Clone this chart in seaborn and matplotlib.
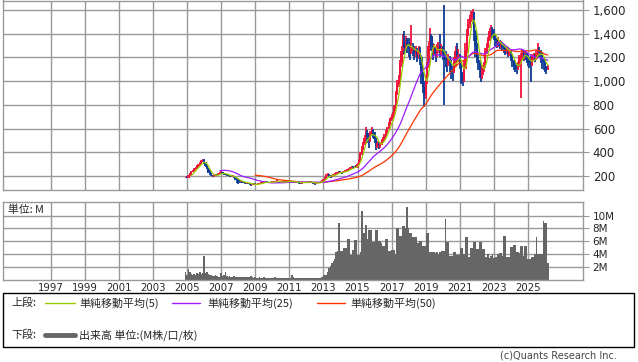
import numpy as np
import pandas as pd
import matplotlib
matplotlib.use("Agg")
import matplotlib.pyplot as plt
from matplotlib.lines import Line2D
from matplotlib.patches import Rectangle
from matplotlib.ticker import FuncFormatter
import seaborn as sns

# monthly bars, Dec 2004 .. Mar 2026
start_month = "2004-12"

close = [
    190,
    185, 200, 215, 235, 240, 255, 270, 285, 295, 305, 325, 335,
    310, 285, 260, 235, 215, 205, 200, 205, 210, 208, 215, 225,
    230, 222, 215, 212, 208, 205, 200, 195, 198, 188, 175, 168,
    160, 150, 155, 150, 145, 140, 142, 138, 135, 125, 128, 132,
    130, 128, 132, 138, 142, 145, 148, 150, 148, 146, 145, 148,
    150, 152, 155, 158, 150, 146, 148, 150, 148, 152, 156, 155,
    158, 155, 148, 146, 148, 150, 148, 142, 140, 143, 146, 148,
    146, 148, 152, 148, 144, 138, 135, 140, 145, 148, 152, 160,
    168, 185, 200, 212, 200, 195, 205, 210, 215, 222, 230, 238,
    232, 226, 234, 240, 246, 255, 260, 266, 275, 270, 280, 276,
    300, 335, 385, 430, 470, 520, 560, 530, 500, 560, 590, 560,
    510, 460, 480, 450, 470, 500, 510, 540, 570, 600, 640, 670,
    700, 720, 780, 900, 980, 1000, 1150, 1250, 1330, 1280, 1350, 1300,
    1280, 1250, 1300, 1270, 1240, 1260, 1220, 1250, 1200, 1050, 950, 880,
    1000, 1130, 1300, 1380, 1300, 1250, 1280, 1230, 1270, 1300, 1250, 1280,
    1230, 1200, 1180, 1150, 1200, 1150, 1100, 1080, 1150, 1250, 1200, 1220,
    1150, 1050, 1000, 1100, 1250, 1400, 1480, 1530, 1560, 1580, 1420, 1300,
    1200, 1150, 1100, 1050, 1100, 1120, 1250, 1300, 1350, 1420, 1430, 1400,
    1380, 1350, 1320, 1330, 1300, 1310, 1290, 1280, 1260, 1270, 1240, 1250,
    1200, 1170, 1130, 1120, 1100, 1130, 1200, 1220, 1240, 1200, 1230, 1180,
    1170, 1150, 1140, 1200, 1210, 1190, 1220, 1260, 1240, 1230, 1180, 1160,
    1120, 1090, 1115,
]

high = [
    195,
    200, 210, 225, 245, 250, 265, 280, 295, 305, 320, 335, 345,
    340, 315, 290, 265, 240, 222, 212, 215, 220, 218, 225, 235,
    240, 235, 228, 220, 215, 212, 208, 205, 205, 200, 192, 180,
    172, 165, 162, 158, 152, 148, 148, 145, 142, 138, 135, 138,
    138, 135, 138, 145, 148, 150, 154, 156, 155, 152, 150, 152,
    156, 158, 162, 164, 160, 152, 154, 156, 154, 158, 162, 162,
    165, 162, 160, 152, 154, 156, 154, 150, 146, 148, 150, 152,
    152, 154, 158, 156, 150, 146, 142, 145, 150, 152, 158, 166,
    178, 195, 215, 225, 218, 205, 212, 218, 222, 230, 238, 245,
    242, 234, 240, 248, 252, 262, 268, 272, 285, 282, 288, 290,
    310, 345, 400, 450, 490, 545, 610, 590, 540, 580, 615, 600,
    570, 520, 495, 490, 485, 510, 525, 555, 585, 615, 655, 690,
    720, 740, 800, 920, 1010, 1050, 1180, 1300, 1400, 1420, 1380, 1360,
    1360, 1330, 1470, 1320, 1300, 1300, 1280, 1300, 1290, 1220, 1080, 1000,
    1050, 1160, 1340, 1450, 1400, 1320, 1310, 1300, 1310, 1330, 1400, 1310,
    1300, 1640, 1250, 1220, 1230, 1210, 1180, 1130, 1200, 1300, 1320, 1270,
    1230, 1160, 1080, 1180, 1320, 1440, 1520, 1560, 1590, 1605, 1580, 1430,
    1320, 1230, 1180, 1120, 1140, 1160, 1280, 1320, 1370, 1450, 1470, 1460,
    1440, 1400, 1360, 1370, 1350, 1340, 1330, 1310, 1300, 1300, 1290, 1280,
    1270, 1220, 1180, 1150, 1140, 1160, 1220, 1240, 1270, 1250, 1260, 1240,
    1220, 1200, 1210, 1230, 1240, 1230, 1260, 1320, 1290, 1260, 1240, 1190,
    1165, 1130, 1140,
]

low = [
    180,
    180, 182, 198, 212, 230, 238, 252, 268, 280, 292, 300, 318,
    305, 280, 255, 228, 208, 198, 192, 195, 200, 200, 205, 215,
    220, 215, 210, 205, 200, 198, 192, 188, 190, 180, 165, 140,
    135, 145, 148, 142, 138, 134, 136, 132, 124, 115, 120, 126,
    124, 122, 125, 130, 136, 140, 142, 145, 142, 140, 140, 142,
    145, 146, 150, 152, 142, 140, 142, 145, 142, 146, 150, 148,
    150, 148, 138, 140, 142, 145, 142, 135, 132, 136, 140, 142,
    140, 142, 146, 142, 138, 130, 128, 132, 138, 142, 146, 152,
    155, 165, 182, 198, 190, 185, 192, 202, 205, 212, 220, 228,
    222, 218, 222, 230, 238, 245, 250, 256, 262, 258, 265, 265,
    270, 295, 330, 375, 420, 460, 510, 480, 440, 490, 545, 520,
    480, 420, 440, 430, 440, 465, 490, 505, 530, 560, 595, 630,
    660, 690, 710, 770, 880, 950, 990, 1120, 1220, 1230, 1260, 1240,
    1200, 1180, 1230, 1210, 1180, 1200, 1160, 1190, 1140, 980, 900, 780,
    850, 980, 1110, 1280, 1250, 1180, 1220, 1160, 1200, 1240, 1200, 1220,
    1180, 800, 1120, 1080, 1130, 1080, 1020, 1000, 1070, 1130, 1150, 1160,
    1100, 980, 960, 990, 1100, 1240, 1380, 1450, 1500, 1480, 1340, 1200,
    1150, 1090, 1030, 995, 1020, 1080, 1110, 1230, 1280, 1340, 1380, 1360,
    1350, 1300, 1280, 1290, 1270, 1270, 1260, 1240, 1220, 1230, 1200, 1210,
    1170, 1120, 1090, 1080, 1060, 1090, 1120, 855, 1190, 1170, 1180, 1150,
    1130, 1110, 995, 1130, 1170, 1160, 1180, 1220, 1200, 1150, 1100, 1090,
    1080, 1060, 1090,
]

# volume in millions
volume = [
    1.3,
    0.8, 1.7, 1.3, 0.9, 0.7, 1.0, 0.8, 1.1, 0.9, 1.3, 1.0, 1.1,
    3.7, 1.1, 1.2, 1.0, 0.8, 0.7, 0.6, 0.6, 0.7, 0.6, 0.5, 0.5,
    1.1, 0.6, 0.7, 1.3, 0.6, 0.5, 0.6, 0.5, 0.5, 0.6, 0.4, 0.5,
    0.5, 0.4, 0.5, 0.4, 0.4, 0.5, 0.4, 0.4, 0.5, 0.6, 0.4, 0.3,
    0.4, 0.3, 0.3, 0.4, 0.3, 0.3, 0.4, 0.3, 0.3, 0.3, 0.3, 0.3,
    0.3, 0.3, 0.4, 0.3, 0.3, 0.3, 0.3, 0.3, 0.3, 0.3, 0.3, 0.3,
    0.3, 0.3, 0.8, 0.5, 0.3, 0.3, 0.3, 0.3, 0.3, 0.3, 0.3, 0.3,
    0.3, 0.3, 0.3, 0.3, 0.3, 0.3, 0.3, 0.3, 0.3, 0.3, 0.3, 0.4,
    0.7, 0.7, 0.8, 1.2, 1.8, 2.2, 2.6, 3.0, 3.3, 4.3, 4.5, 8.9,
    4.5, 4.5, 4.9, 4.9, 4.9, 6.4, 6.4, 3.9, 3.9, 4.7, 6.2, 6.2,
    3.9, 3.9, 4.3, 10.7, 7.3, 7.3, 8.5, 6.3, 7.8, 7.8, 7.8, 5.9,
    5.9, 7.8, 7.8, 6.0, 6.0, 5.8, 5.3, 5.3, 6.4, 6.4, 4.5, 4.5,
    4.6, 4.6, 4.6, 4.0, 8.1, 8.1, 6.8, 6.8, 8.3, 8.3, 8.0, 11.3,
    8.0, 7.3, 7.3, 6.6, 6.6, 6.6, 5.8, 5.8, 6.0, 6.0, 5.3, 5.3,
    5.3, 7.3, 7.3, 4.4, 4.4, 4.4, 4.4, 4.2, 4.4, 4.0, 4.4, 4.5,
    4.5, 4.5, 9.4, 5.9, 5.9, 3.8, 3.8, 3.8, 4.3, 4.3, 3.9, 3.9,
    3.9, 4.9, 4.9, 4.0, 6.6, 6.6, 3.5, 3.5, 4.9, 4.9, 5.9, 5.9,
    4.8, 4.8, 5.9, 5.9, 4.8, 4.8, 3.5, 3.5, 4.1, 3.4, 3.8, 4.1,
    3.4, 3.5, 3.5, 4.0, 4.2, 4.2, 3.8, 6.9, 6.9, 3.5, 3.5, 3.5,
    5.1, 5.1, 5.4, 5.4, 4.4, 4.4, 4.2, 5.3, 5.3, 3.7, 5.3, 5.3,
    3.2, 3.2, 3.2, 3.5, 3.5, 4.0, 6.6, 4.0, 4.0, 4.0, 4.0, 9.1,
    8.9, 8.9, 2.6,
]

year_ticks = list(range(1997, 2026, 2))
price_ticks = [200, 400, 600, 800, 1000, 1200, 1400, 1600]
volume_ticks = [2, 4, 6, 8, 10]

ma_labels = ["単純移動平均(5)", "単純移動平均(25)", "単純移動平均(50)"]
volume_label = "出来高 単位:(M株/口/枚)"

UP = "#f0143c"
DOWN = "#0f3c96"
MA_COLORS = ["#99cc00", "#9a1cff", "#ff3300"]
VOL_COLOR = "#666666"
GRID = "#999999"

sns.set_style("white")
plt.rcParams["font.family"] = ["DejaVu Sans", "Noto Sans CJK JP"]
JP = ["Noto Sans CJK JP", "DejaVu Sans"]

# build frame
months = pd.period_range(start_month, periods=len(close), freq="M")
df = pd.DataFrame({
    "t": months.year + (months.month - 1) / 12.0,
    "close": close, "high": high, "low": low, "volume": volume,
})
df["open"] = df["close"].shift(1)
df.loc[0, "open"] = df.loc[0, "low"]
for n in (5, 25, 50):
    df[f"ma{n}"] = df["close"].rolling(n).mean()
up = df["close"] >= df["open"]
colors = np.where(up, UP, DOWN)

W, H = 638, 362
fig = plt.figure(figsize=(W / 100, H / 100), dpi=100)


def fig_rect(x0, y0, x1, y1):
    return [x0 / W, 1 - y1 / H, (x1 - x0) / W, (y1 - y0) / H]


ax = fig.add_axes(fig_rect(3, 0.5, 583, 190))
axv = fig.add_axes(fig_rect(3, 202, 583, 280))

xlim = (1994.2, 2028.23)

# --- price panel
body_w = 1.6 / 12
ax.vlines(df["t"], df["low"], df["high"], colors=colors, lw=1.3, zorder=2)
ax.bar(df["t"], (df["close"] - df["open"]).abs().clip(lower=4),
       bottom=df[["open", "close"]].min(axis=1), width=body_w,
       color=colors, linewidth=0, zorder=2)

for n, c in zip((50, 25, 5), MA_COLORS[::-1]):
    sub = df.dropna(subset=[f"ma{n}"])
    sns.lineplot(data=sub, x="t", y=f"ma{n}", color=c, lw=0.9,
                 estimator=None, ax=ax, zorder=3)

ax.set_xlim(*xlim)
ax.set_ylim(82, 1680)
ax.set_xticks(year_ticks)
ax.set_yticks(price_ticks)
ax.yaxis.set_major_formatter(FuncFormatter(lambda v, p: f"{int(v):,}"))
ax.yaxis.tick_right()
ax.tick_params(axis="y", length=4, color=GRID, labelsize=8.5, pad=3)
ax.tick_params(axis="x", length=0, labelbottom=False)
ax.set_xlabel("")
ax.set_ylabel("")

# --- volume panel
axv.bar(df["t"], df["volume"], width=1.1 / 12, color=VOL_COLOR,
        linewidth=0, zorder=2)
axv.set_xlim(*xlim)
axv.set_ylim(0, 12.1)
axv.set_xticks(year_ticks)
axv.set_xticklabels([str(y) for y in year_ticks])
axv.set_yticks(volume_ticks)
axv.set_yticklabels([f"{v}M" for v in volume_ticks])
axv.yaxis.tick_right()
axv.tick_params(axis="y", length=4, color=GRID, labelsize=7.5, pad=3)
axv.tick_params(axis="x", length=0, labelsize=7.3, pad=2)
axv.text(0.009, 0.90, "単位: M", transform=axv.transAxes, fontsize=7.8,
         family=JP, ha="left", va="center")

for a in (ax, axv):
    a.grid(True, color=GRID, lw=1.0)
    a.set_axisbelow(True)
    for s in a.spines.values():
        s.set_color(GRID)
        s.set_linewidth(1.0)

# --- legend box
fig.add_artist(Rectangle((3 / W, 1 - 347 / H), 631 / W, 54 / H,
                         transform=fig.transFigure, fill=False,
                         edgecolor="black", lw=1.0))


def fx(x):
    return x / W


def fy(y):
    return 1 - y / H


row1, row2 = 303, 335
fs = 7.9
fig.text(fx(11), fy(row1), "上段:", fontsize=fs, family=JP, va="center")
for (x0, x1, tx), c, lab in zip([(45, 75, 79), (172, 200, 207), (317, 345, 350)],
                                MA_COLORS, ma_labels):
    fig.add_artist(Line2D([fx(x0), fx(x1)], [fy(row1), fy(row1)], color=c,
                          lw=1.0, transform=fig.transFigure))
    fig.text(fx(tx), fy(row1), lab, fontsize=fs, family=JP, va="center")

fig.text(fx(11), fy(row2), "下段:", fontsize=fs, family=JP, va="center")
fig.add_artist(Line2D([fx(45), fx(75)], [fy(row2), fy(row2)], color=VOL_COLOR,
                      lw=3.5, transform=fig.transFigure))
fig.text(fx(79), fy(row2), volume_label, fontsize=fs, family=JP, va="center")

fig.text(fx(617), fy(356), "(c)Quants Research Inc.", fontsize=7,
         color="#444444", ha="right", va="center")

fig.savefig("out.png", dpi=100)
